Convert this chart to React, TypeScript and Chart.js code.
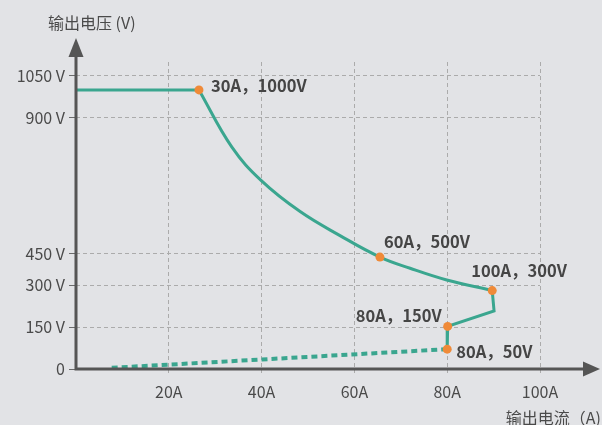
import { useEffect, useRef } from "react";
import { Chart, registerables } from "chart.js";
Chart.register(...registerables);

// ---- data ----
const flatCurrent = [0, 26.5];
const flatVoltage = [1000, 1000];
const curveCurrent = [26.5, 33.6, 40.0, 48.3, 56.9, 65.5, 72.0, 79.9, 89.7];
const curveVoltage = [1000, 795, 674, 564, 478, 401, 361, 319, 281];
const stepCurrent = [89.7, 90.1, 80.1, 80.0];
const stepVoltage = [281, 208, 152.5, 71];
const dashCurrent = [80.0, 7.4];
const dashVoltage = [71, 4];
const markerCurrent = [26.5, 65.5, 89.7, 80.1, 80.0];
const markerVoltage = [1000, 401, 281, 152.5, 71];
const markerLabels = ["30A，1000V", "60A，500V", "100A，300V", "80A，150V", "80A，50V"];
const xTickValues = [20, 40, 60, 80, 100];
const xTickLabels = ["20A", "40A", "60A", "80A", "100A"];
const yTickValues = [0, 150, 300, 413, 900, 1050];
const yTickLabels = ["0", "150 V", "300 V", "450 V", "900 V", "1050 V"];
const xTitle = "输出电流（A)";
const yTitle = "输出电压 (V)";

// ---- styles ----
const BG = "#e2e3e6";
const TEAL = "#3aa68f";
const ORANGE = "#ef8a38";
const AXIS = "#555555";
const GRID = "#ababab";
const TEXT = "#4a4a4a";
const FONT = '"Noto Sans CJK SC", "Noto Sans", sans-serif';
const labelStyle = [
  { dx: 12, dy: -4, align: "left" },
  { dx: 4, dy: -15, align: "left" },
  { dx: -21, dy: -20, align: "left" },
  { dx: -6, dy: -11, align: "right" },
  { dx: 9, dy: 3, align: "left" },
];

const pts = (xs: number[], ys: number[]) => xs.map((x, i) => ({ x, y: ys[i] }));

const overlay = {
  id: "overlay",
  afterDatasetsDraw(chart: any) {
    const { ctx, chartArea } = chart;
    const xs = chart.scales.x;
    const ys = chart.scales.y;
    const x0 = xs.getPixelForValue(0);
    const y0 = ys.getPixelForValue(0);
    ctx.save();
    // axes lines
    ctx.strokeStyle = AXIS;
    ctx.fillStyle = AXIS;
    ctx.lineWidth = 3;
    ctx.beginPath();
    ctx.moveTo(x0, y0);
    ctx.lineTo(x0, chartArea.top - 6);
    ctx.moveTo(x0 - 1.5, y0);
    ctx.lineTo(chartArea.right + 45, y0);
    ctx.stroke();
    // arrows
    ctx.beginPath();
    ctx.moveTo(x0, chartArea.top - 24);
    ctx.lineTo(x0 - 7.5, chartArea.top - 5);
    ctx.lineTo(x0 + 7.5, chartArea.top - 5);
    ctx.closePath();
    ctx.fill();
    ctx.beginPath();
    ctx.moveTo(chartArea.right + 60, y0);
    ctx.lineTo(chartArea.right + 43, y0 - 7.5);
    ctx.lineTo(chartArea.right + 43, y0 + 7.5);
    ctx.closePath();
    ctx.fill();
    // axis titles
    ctx.fillStyle = TEXT;
    ctx.font = `16px ${FONT}`;
    ctx.textBaseline = "middle";
    ctx.textAlign = "left";
    ctx.fillText(yTitle, x0 - 28, chartArea.top - 39);
    ctx.textAlign = "right";
    ctx.fillText(xTitle, chart.width - 1, y0 + 49);
    // point labels
    ctx.font = `600 16.5px ${FONT}`;
    ctx.fillStyle = "#454545";
    markerLabels.forEach((t, i) => {
      const px = xs.getPixelForValue(markerCurrent[i]);
      const py = ys.getPixelForValue(markerVoltage[i]);
      const s = labelStyle[i];
      ctx.textAlign = s.align;
      ctx.fillText(t, px + s.dx, py + s.dy);
    });
    ctx.restore();
  },
};

export default function App() {
  const ref = useRef<HTMLCanvasElement>(null);
  useEffect(() => {
    if (!ref.current) return;
    const lineBase = {
      showLine: true,
      pointRadius: 0,
      borderColor: TEAL,
      borderWidth: 3,
      fill: false,
      order: 1,
    };
    const chart = new Chart(ref.current, {
      type: "scatter",
      data: {
        datasets: [
          {
            data: pts(markerCurrent, markerVoltage),
            showLine: false,
            pointRadius: 4.5,
            pointBackgroundColor: ORANGE,
            pointBorderWidth: 0,
            order: 0,
          } as any,
          { ...lineBase, data: pts(flatCurrent, flatVoltage) },
          { ...lineBase, data: pts(curveCurrent, curveVoltage), tension: 0.4, borderJoinStyle: "round" },
          { ...lineBase, data: pts(stepCurrent, stepVoltage) },
          { ...lineBase, data: pts(dashCurrent, dashVoltage), borderWidth: 4, borderDash: [6, 4] },
        ],
      },
      options: {
        animation: false,
        responsive: false,
        events: [],
        layout: { padding: { top: 62, right: 62, left: 0, bottom: 0 } },
        plugins: { legend: { display: false }, tooltip: { enabled: false } },
        scales: {
          x: {
            type: "linear",
            min: 0,
            max: 100,
            afterBuildTicks: (s: any) => {
              s.ticks = xTickValues.map((v) => ({ value: v }));
            },
            afterFit: (s: any) => {
              s.height = 56;
            },
            ticks: {
              callback: (v: any) => xTickLabels[xTickValues.indexOf(Number(v))] ?? "",
              color: TEXT,
              font: { family: FONT, size: 16 },
              padding: 7,
              maxRotation: 0,
            },
            grid: {
              color: GRID,
              lineWidth: 1,
              tickLength: 6,
              tickBorderDash: [4, 3],
            },
            border: { display: false, dash: [4, 3] },
          },
          y: {
            type: "linear",
            min: 0,
            max: 1100,
            afterBuildTicks: (s: any) => {
              s.ticks = yTickValues.map((v) => ({ value: v }));
            },
            afterFit: (s: any) => {
              s.width = 76;
            },
            ticks: {
              callback: (v: any) => yTickLabels[yTickValues.indexOf(Number(v))] ?? "",
              color: TEXT,
              font: { family: FONT, size: 16 },
              padding: 4,
            },
            grid: {
              color: GRID,
              lineWidth: 1,
              tickLength: 7,
              tickColor: "#6a6a6a",
              tickBorderDash: [],
            },
            border: { display: false, dash: [4, 3] },
          },
        },
      } as any,
      plugins: [overlay],
    });
    return () => chart.destroy();
  }, []);
  return (
    <div style={{ position: "fixed", left: 0, top: 0, width: 602, height: 425, background: BG }}>
      <canvas ref={ref} width={602} height={425} style={{ width: 602, height: 425, display: "block" }} />
    </div>
  );
}
